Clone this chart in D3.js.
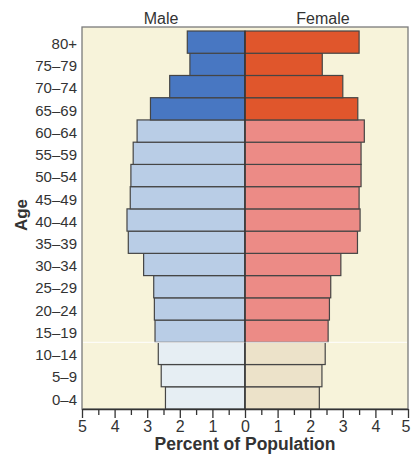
<!DOCTYPE html>
<html><head><meta charset="utf-8">
<script src="https://cdn.jsdelivr.net/npm/d3@7"></script>
<style>body{margin:0;background:#fff;}svg{display:block;font-family:"Liberation Sans",Arial,sans-serif;}</style>
</head><body><svg id="c" width="411" height="455"></svg>
<script>
const ages = ["0–4","5–9","10–14","15–19","20–24","25–29","30–34","35–39","40–44","45–49","50–54","55–59","60–64","65–69","70–74","75–79","80+"];
const male = [2.44,2.57,2.66,2.76,2.78,2.8,3.11,3.58,3.62,3.52,3.5,3.43,3.31,2.9,2.31,1.69,1.77];
const female = [2.28,2.36,2.46,2.55,2.59,2.63,2.94,3.45,3.53,3.5,3.56,3.56,3.66,3.46,3.0,2.37,3.5];
const groups = ["young","young","young","working","working","working","working","working","working","working","working","working","working","old","old","old","old"];
const maleColors = {young:"#e6eef3", working:"#b9cde6", old:"#4877c2"};
const femaleColors = {young:"#ece2c9", working:"#ec8b86", old:"#e0562c"};
const tickValues = [-5,-4,-3,-2,-1,0,1,2,3,4,5];
const minorTicks = [-4.5,-3.5,-2.5,-1.5,-0.5,0.5,1.5,2.5,3.5,4.5];

const svg = d3.select("#c");
const L=82, R=408, T=27, B=409, barTop=31;
const x = d3.scaleLinear().domain([-5,5]).range([L,R]);
const y = d3.scaleBand().domain(ages.slice().reverse()).range([barTop,B]).padding(0);

svg.append("rect").attr("x",L).attr("y",T).attr("width",R-L).attr("height",B-T)
  .attr("fill","#f7f3da").attr("stroke","#7a7a7a").attr("stroke-width",1.3);

const rows = ages.map((a,i)=>({age:a,m:male[i],f:female[i],g:groups[i]}));
svg.append("g").selectAll("rect").data(rows).join("rect")
  .attr("x",d=>x(-d.m)).attr("y",d=>y(d.age)).attr("width",d=>x(0)-x(-d.m)).attr("height",y.bandwidth())
  .attr("fill",d=>maleColors[d.g]).attr("stroke","#454545").attr("stroke-width",1.2);
svg.append("g").selectAll("rect").data(rows).join("rect")
  .attr("x",x(0)).attr("y",d=>y(d.age)).attr("width",d=>x(d.f)-x(0)).attr("height",y.bandwidth())
  .attr("fill",d=>femaleColors[d.g]).attr("stroke","#454545").attr("stroke-width",1.2);

// scan artifact line
svg.append("line").attr("x1",L+1).attr("x2",R-1).attr("y1",y("15–19")+y.bandwidth()).attr("y2",y("15–19")+y.bandwidth())
  .attr("stroke","#ffffff").attr("stroke-width",1.2).attr("opacity",0.8);

svg.append("line").attr("x1",x(0)).attr("x2",x(0)).attr("y1",barTop).attr("y2",B).attr("stroke","#333").attr("stroke-width",1.3);

// x axis
const ax = svg.append("g").attr("transform",`translate(0,${B})`)
  .call(d3.axisBottom(x).tickValues(tickValues).tickFormat(d=>Math.abs(d)).tickSize(9).tickSizeOuter(0));
ax.select(".domain").attr("stroke","#333").attr("stroke-width",1.4);
ax.selectAll(".tick line").attr("stroke","#333").attr("stroke-width",1.3);
ax.selectAll(".tick text").attr("font-size",16).attr("fill","#333").attr("font-family","Liberation Sans, Arial, sans-serif").attr("y",12).attr("dy","0.71em")
  .attr("dx",d=>d===5?-2.5:0);
svg.append("g").attr("transform",`translate(0,${B})`)
  .call(d3.axisBottom(x).tickValues(minorTicks).tickFormat("").tickSize(6).tickSizeOuter(0))
  .call(g=>g.select(".domain").remove())
  .selectAll(".tick line").attr("stroke","#333").attr("stroke-width",1.3);

// y labels
const ay = svg.append("g").attr("transform",`translate(${L},0)`)
  .call(d3.axisLeft(y).tickSize(0).tickPadding(5));
ay.select(".domain").remove();
ay.selectAll(".tick text").attr("font-size",15).attr("fill","#333").attr("font-family","Liberation Sans, Arial, sans-serif").attr("dy","0.45em");

svg.append("text").attr("x",161).attr("y",24).attr("text-anchor","middle").attr("font-size",16).attr("fill","#333").text("Male");
svg.append("text").attr("x",323).attr("y",24).attr("text-anchor","middle").attr("font-size",16).attr("fill","#333").text("Female");
svg.append("text").attr("transform","translate(27,215) rotate(-90)").attr("text-anchor","middle").attr("font-size",17).attr("font-weight","bold").attr("fill","#333").text("Age");
svg.append("text").attr("x",245).attr("y",450).attr("text-anchor","middle").attr("font-size",17.5).attr("font-weight","bold").attr("fill","#333").text("Percent of Population");
</script></body></html>
